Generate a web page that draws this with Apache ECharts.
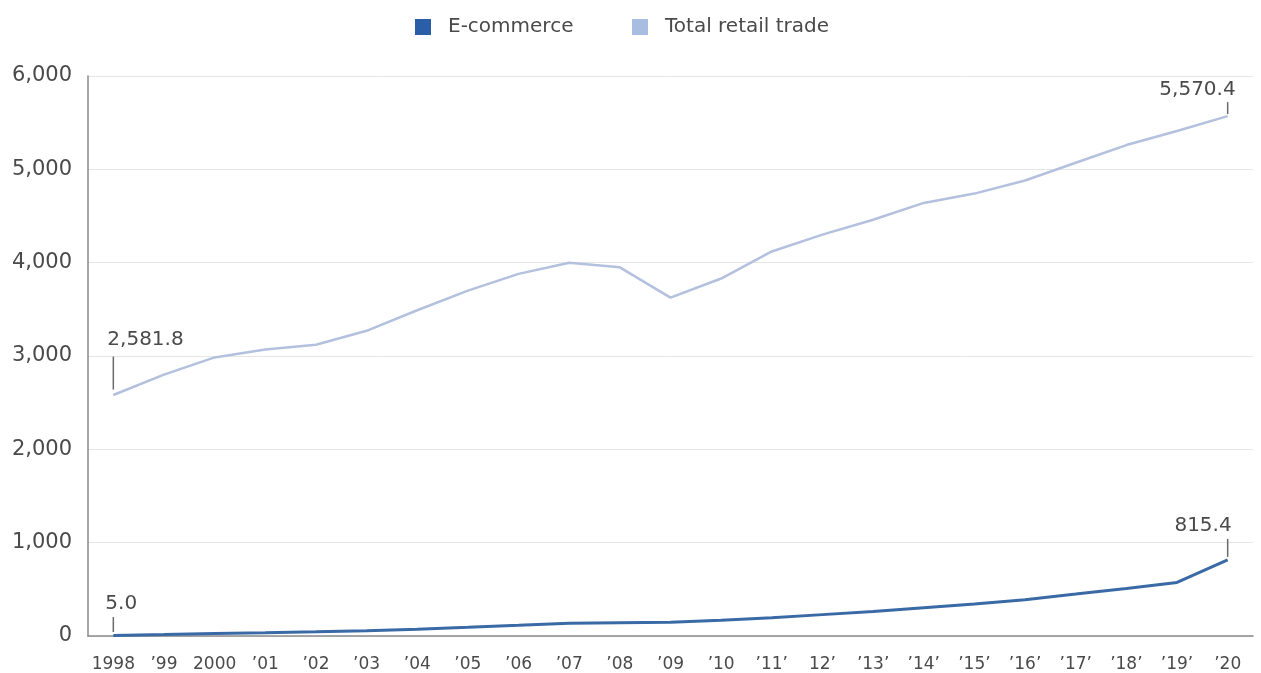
<!DOCTYPE html>
<html>
<head>
<meta charset="utf-8">
<script src="https://cdn.jsdelivr.net/npm/echarts@6/dist/echarts.min.js"></script>
<style>html,body{margin:0;padding:0;background:#fff;}#c{width:1261px;height:673px;}</style>
</head>
<body>
<div id="c"></div>
<script>
const years = ["1998","’99","2000","’01","’02","’03","’04","’05","’06","’07","’08","’09","’10","’11’","12’","’13’","’14’","’15’","’16’","’17’","’18’","’19’","’20"];
const ecommerce = [5.0,15,27,34,45,57,73,93,114,137,142,146,169,195,229,262,302,342,389,449,510,574,815.4];
const totalRetail = [2581.8,2800,2985,3070,3120,3270,3490,3700,3880,4000,3950,3625,3830,4120,4300,4460,4640,4740,4880,5070,5260,5410,5570.4];
const yTicks = [0,1000,2000,3000,4000,5000,6000];

const FONT = 'DejaVu Sans';
const TXT = '#4a4a4a';
const first = 0, last = years.length - 1;

const chart = echarts.init(document.getElementById('c'));
function note(idx, val, h, off, dist, align, dx) {
  return {
    value: [idx, val],
    symbolSize: [1.5, h],
    symbolOffset: [0, off],
    label: {
      show: true, position: 'top', distance: dist, align: align, offset: [dx, 0],
      formatter: () => val.toLocaleString('en-US', {minimumFractionDigits:1, maximumFractionDigits:1}),
      color: TXT, fontSize: 20, fontFamily: FONT
    }
  };
}
const legendBase = {
  top: 17, padding: 0, icon: 'rect', itemWidth: 16, itemHeight: 16,
  textStyle: { color: TXT, fontSize: 20, fontFamily: FONT, padding: [0, 0, 0, 12] }
};
chart.setOption({
  animation: false,
  legend: [
    Object.assign({ data: ['E-commerce'], left: 415 }, legendBase),
    Object.assign({ data: ['Total retail trade'], left: 632 }, legendBase)
  ],
  grid: { left: 88, right: 8, top: 76, bottom: 36, containLabel: false },
  xAxis: {
    type: 'category', data: years, boundaryGap: true,
    axisLine: { lineStyle: { color: '#8a8a8a', width: 1.5 } },
    axisTick: { show: false },
    axisLabel: { color: TXT, fontSize: 17, fontFamily: FONT, margin: 20, interval: 0 }
  },
  yAxis: {
    type: 'value', min: yTicks[0], max: yTicks[yTicks.length-1], interval: 1000,
    axisLine: { show: true, lineStyle: { color: '#8a8a8a', width: 1.5 } },
    axisTick: { show: false },
    splitLine: { lineStyle: { color: '#e6e6e6' } },
    axisLabel: { color: TXT, fontSize: 21, fontFamily: FONT, margin: 16,
      formatter: v => v.toLocaleString('en-US') }
  },
  series: [
    { name: 'E-commerce', type: 'line', data: ecommerce, showSymbol: false, symbol: 'none',
      color: '#2a5fa8', lineStyle: { color: '#3a6aa6', width: 3 }, z: 3 },
    { name: 'Total retail trade', type: 'line', data: totalRetail, showSymbol: false, symbol: 'none',
      color: '#a9bde0', lineStyle: { color: '#b3c0de', width: 2.5 }, z: 2 },
    { name: 'notes', type: 'scatter', symbol: 'rect', itemStyle: { color: '#6a6a6a', opacity: 1 }, z: 4,
      data: [
        note(first, totalRetail[first], 33, -22, 7, 'left', -6),
        note(last, totalRetail[last], 12, -8, 2, 'right', 8),
        note(last, ecommerce[last], 18, -12, 3, 'right', 4),
        note(first, ecommerce[first], 15, -11, 3, 'left', -8)
      ] }
  ]
});
</script>
</body>
</html>
